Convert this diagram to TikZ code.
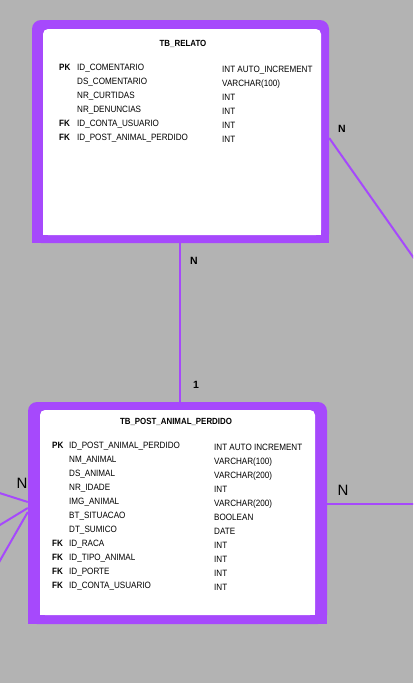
\documentclass[tikz,border=0pt]{standalone}
\usepackage{graphicx}
\usepackage{fontspec}
\setmainfont{Liberation Sans}
\definecolor{roxo}{RGB}{166, 73, 252}
\definecolor{fundo}{RGB}{179, 179, 179}
\newcommand{\esticar}[1]{\scalebox{1}[1.13]{#1}}

\begin{document}
\begin{tikzpicture}[x=1pt, y=-1pt,
    tabela/.style={fill=roxo, rounded corners=9pt, inner sep=0pt},
    linha/.style={draw=roxo, line width=2pt},
    campo/.style={anchor=base west, inner sep=0pt, font=\fontsize{8.1}{10}\selectfont},
    chave/.style={campo, font=\fontsize{8.1}{10}\selectfont\bfseries},
    titulo/.style={anchor=base, inner sep=0pt, font=\fontsize{7.9}{10}\selectfont\bfseries},
    card/.style={inner sep=0pt, font=\fontsize{10.5}{12}\selectfont\bfseries},
    cardfino/.style={inner sep=0pt, font=\fontsize{15}{17}\selectfont}]
			\useasboundingbox (0,0) rectangle (413,683);
			\fill[fundo] (0,0) rectangle (413,683);
			\clip (0,0) rectangle (413,683);

			% tabela relato
			\node[tabela, minimum width=297pt, minimum height=223pt] (relato) at (180.5,131.5) {};
			\fill[roxo] (relato.west) rectangle (relato.south east);
			\fill[white, rounded corners=5pt] (43,29) rectangle (321,235);
			\fill[white] (43,100) rectangle (321,235);

			\node[titulo] (trelato) at (183,46.7) {\esticar{TB\_RELATO}};
			\foreach \k/\c/\t [count=\i] in {PK/ID\_COMENTARIO/INT AUTO\_INCREMENT,
				/DS\_COMENTARIO/VARCHAR(100), /NR\_CURTIDAS/INT, /NR\_DENUNCIAS/INT,
				FK/ID\_CONTA\_USUARIO/INT, FK/ID\_POST\_ANIMAL\_PERDIDO/INT} {
				\node[chave] (rk\i) at (59, {56+14*\i}) {\esticar{\k}};
				\node[campo] (rc\i) at (77, {56+14*\i}) {\esticar{\c}};
				\node[campo] (rt\i) at (222, {58+14*\i}) {\esticar{\t}};
			}

			% tabela post
			\node[tabela, minimum width=299pt, minimum height=222pt] (post) at (177.5,513) {};
			\fill[roxo] (post.west) rectangle (post.south east);
			\fill[white, rounded corners=5pt] (40,410) rectangle (315,615);
			\fill[white] (40,480) rectangle (315,615);

			\node[titulo] (tpost) at (176,424.3) {\esticar{TB\_POST\_ANIMAL\_PERDIDO}};
			\foreach \k/\c/\t [count=\i] in {PK/ID\_POST\_ANIMAL\_PERDIDO/INT AUTO INCREMENT,
				/NM\_ANIMAL/VARCHAR(100), /DS\_ANIMAL/VARCHAR(200), /NR\_IDADE/INT,
				/IMG\_ANIMAL/VARCHAR(200), /BT\_SITUACAO/BOOLEAN, /DT\_SUMICO/DATE,
				FK/ID\_RACA/INT, FK/ID\_TIPO\_ANIMAL/INT, FK/ID\_PORTE/INT,
				FK/ID\_CONTA\_USUARIO/INT} {
				\node[chave] (pk\i) at (52, {434.5+14*\i}) {\esticar{\k}};
				\node[campo] (pc\i) at (69, {434.5+14*\i}) {\esticar{\c}};
				\node[campo] (pt\i) at (214, {436.5+14*\i}) {\esticar{\t}};
			}

			% ligacoes
			\coordinate (meio) at (180,0);
			\coordinate (fora1) at (430,281);
			\coordinate (fora2) at (430,504);
			\coordinate (fora3) at (-10,490);
			\coordinate (fora4) at (-10,531);
			\coordinate (fora5) at (-10,578);
			\draw[linha] (meio |- relato.south) -- (meio |- post.north);
			\draw[linha] ([yshift=-6.5pt]relato.east) -- (fora1);
			\draw[linha] ([yshift=9pt]post.east) -- (fora2);
			\draw[linha] ([yshift=11pt]post.west) -- (fora3);
			\draw[linha] ([yshift=5pt]post.west) -- (fora4);
			\draw[linha] ([yshift=1pt]post.west) -- (fora5);

			% cardinalidades
			\node[card] (n1) at (194,261) {N};
			\node[card] (um) at (196,385) {1};
			\node[card] (n2) at (342,129) {N};
			\node[cardfino] (n3) at (343,490) {N};
			\node[cardfino] (n4) at (22,483) {N};
		\end{tikzpicture}
\end{document}
